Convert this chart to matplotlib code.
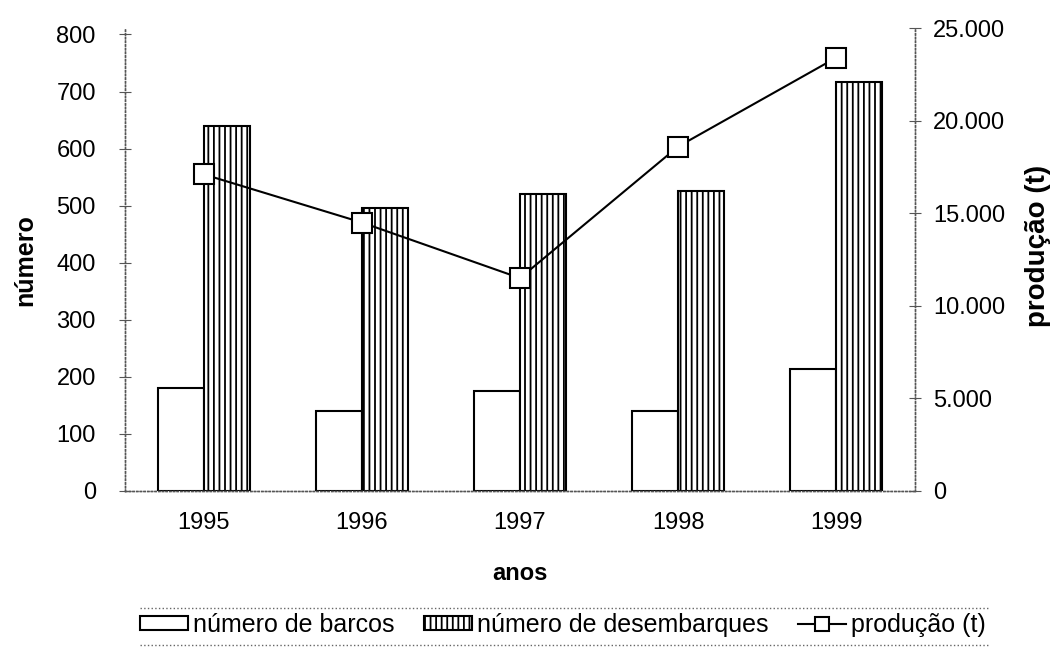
import matplotlib.pyplot as plt
from matplotlib.lines import Line2D
import numpy as np

# data
anos = ['1995', '1996', '1997', '1998', '1999']
barcos = [180, 140, 175, 140, 214]
desembarques = [640, 496, 521, 526, 716]
producao = [17100, 14500, 11500, 18600, 23400]

plt.rcParams['font.family'] = ['Liberation Sans', 'DejaVu Sans']
plt.rcParams['hatch.linewidth'] = 1.3

fig = plt.figure(figsize=(10.52, 6.55), dpi=100)
ax1 = fig.add_axes([0.1188, 0.2504, 0.751, 0.7066])
ax2 = ax1.twinx()

x = np.arange(len(anos))
w = 0.29
b1 = ax1.bar(x - w / 2, barcos, w, color='white', edgecolor='black', linewidth=1.5, zorder=2)
b2 = ax1.bar(x + w / 2, desembarques, w, color='white', edgecolor='black', linewidth=1.5,
             hatch='|||', zorder=2)
l1, = ax2.plot(x, producao, color='black', linewidth=1.5, marker='s', markersize=15,
               markerfacecolor='white', markeredgecolor='black', markeredgewidth=1.5, zorder=3)

ax1.set_xlim(-0.5, 4.5)
ax1.set_ylim(0, 811)
ax1.set_yticks(range(0, 801, 100))
ax2.set_ylim(0, 25000)
ax2.set_yticks(range(0, 25001, 5000))
ax2.set_yticklabels(['0', '5.000', '10.000', '15.000', '20.000', '25.000'])

ax1.set_xticks(x)
ax1.set_xticklabels(anos)

for ax in (ax1, ax2):
    ax.spines['top'].set_visible(False)
    for s in ('left', 'right', 'bottom'):
        ax.spines[s].set_linestyle(':')
        ax.spines[s].set_color('#555555')
        ax.spines[s].set_linewidth(1.0)
    ax.tick_params(axis='y', labelsize=17, direction='inout', length=8, width=0.8, colors='#555555',
                   labelcolor='black')
ax1.tick_params(axis='x', labelsize=17, length=0, pad=15)
ax1.tick_params(axis='y', pad=17)
ax2.tick_params(axis='y', pad=9)
ax1.set_zorder(ax2.get_zorder() - 1)
ax2.patch.set_visible(False)
ax1.patch.set_visible(False)

ax1.set_ylabel('número', fontsize=18, fontweight='bold', labelpad=14)
ax2.set_ylabel('produção (t)', fontsize=20, fontweight='bold', labelpad=14)
ax2.yaxis.label.set_y(0.53)
ax1.set_xlabel('anos', fontsize=17, fontweight='bold', labelpad=20)

leg = fig.legend([b1, b2, l1], ['número de barcos', 'número de desembarques', 'produção (t)'],
                 loc='center', bbox_to_anchor=(0.535, 0.046), ncol=3, fontsize=18,
                 frameon=False, handlelength=1.9, handleheight=0.5, handletextpad=0.2,
                 columnspacing=1.2, markerscale=0.7)

# dotted rules above and below the legend
for yy in (1 - 608 / 655, 1 - 645 / 655):
    fig.add_artist(Line2D([140 / 1052, 990 / 1052], [yy, yy], transform=fig.transFigure,
                          color='#666666', linestyle=':', linewidth=1.0))

fig.savefig('out.png', dpi=100)
